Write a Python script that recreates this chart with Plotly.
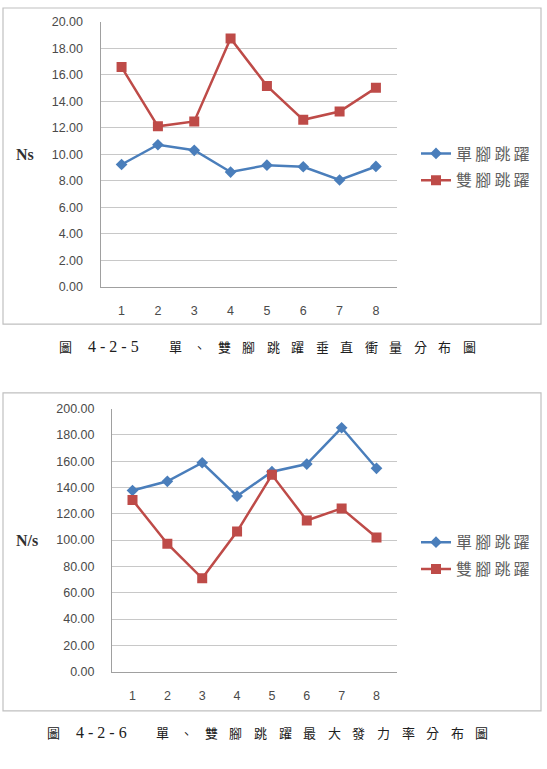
import plotly.graph_objects as go

# ---------------- data ----------------
categories = ["1", "2", "3", "4", "5", "6", "7", "8"]
series_names = ["單腳跳躍", "雙腳跳躍"]
impulse_single = [9.23, 10.72, 10.30, 8.66, 9.18, 9.06, 8.06, 9.08]
impulse_double = [16.58, 12.11, 12.48, 18.73, 15.16, 12.60, 13.23, 15.01]
rfd_single = [137.7, 144.7, 158.8, 133.5, 152.0, 157.8, 185.4, 154.6]
rfd_double = [130.5, 97.3, 71.0, 106.5, 149.6, 114.9, 124.1, 102.0]
impulse_ticks = [0, 2, 4, 6, 8, 10, 12, 14, 16, 18, 20]
rfd_ticks = [0, 20, 40, 60, 80, 100, 120, 140, 160, 180, 200]
caption1_head = ["圖", "4-2-5"]
caption1_chars = list("單、雙腳跳躍垂直衝量分布圖")
caption2_head = ["圖", "4-2-6"]
caption2_chars = list("單、雙腳跳躍最大發力率分布圖")
ytitle1 = "Ns"
ytitle2 = "N/s"

W, H = 547, 769
BLUE = "#4a7ebb"
RED = "#be4b48"
GRID = "#c8c8c8"
TXT = "#4a4a4a"
CJK = "Noto Sans CJK TC"


def px(x):
    return x / W


def py(y):
    return 1 - y / H


def legend_label(s):
    return "\u2009".join(s)


fig = go.Figure()

# chart 1
fig.add_trace(go.Scatter(x=categories, y=impulse_single, name=legend_label(series_names[0]), mode="lines+markers",
                         line=dict(color=BLUE, width=2.5), marker=dict(symbol="diamond", size=9, color=BLUE),
                         xaxis="x", yaxis="y", legend="legend", legendgroup="a"))
fig.add_trace(go.Scatter(x=categories, y=impulse_double, name=legend_label(series_names[1]), mode="lines+markers",
                         line=dict(color=RED, width=2.5), marker=dict(symbol="square", size=10, color=RED),
                         xaxis="x", yaxis="y", legend="legend", legendgroup="b"))
# chart 2
fig.add_trace(go.Scatter(x=categories, y=rfd_single, name=legend_label(series_names[0]), mode="lines+markers",
                         line=dict(color=BLUE, width=2.5), marker=dict(symbol="diamond", size=9, color=BLUE),
                         xaxis="x2", yaxis="y2", legend="legend2", legendgroup="c"))
fig.add_trace(go.Scatter(x=categories, y=rfd_double, name=legend_label(series_names[1]), mode="lines+markers",
                         line=dict(color=RED, width=2.5), marker=dict(symbol="square", size=10, color=RED),
                         xaxis="x2", yaxis="y2", legend="legend2", legendgroup="d"))

tickfont = dict(family="Liberation Sans", size=12.5, color=TXT)
common_x = dict(type="category", showgrid=False, showline=True, linecolor="#a0a0a0", linewidth=1,
                ticks="", tickfont=tickfont, ticklabelstandoff=12, zeroline=False, fixedrange=True)
common_y = dict(showgrid=True, gridcolor=GRID, gridwidth=1, showline=True, linecolor="#a0a0a0",
                linewidth=1, ticks="", tickfont=tickfont, ticklabelstandoff=14, zeroline=False,
                tickformat=".2f")

legend_common = dict(xanchor="left", yanchor="middle",
                     font=dict(family=CJK, size=16, color="#606060"), bgcolor="rgba(0,0,0,0)",
                     itemwidth=30, traceorder="grouped", tracegroupgap=3)

layout = dict(
    width=W, height=H, margin=dict(l=0, r=0, t=0, b=0),
    paper_bgcolor="white", plot_bgcolor="white", showlegend=True,
    xaxis=dict(common_x, domain=[px(100.5), px(397)], anchor="y"),
    yaxis=dict(common_y, domain=[py(285), py(15)], range=[0, 20], tickvals=impulse_ticks, anchor="x"),
    xaxis2=dict(common_x, domain=[px(112), px(397)], anchor="y2"),
    yaxis2=dict(common_y, domain=[py(677), py(409)], range=[0, 200], tickvals=rfd_ticks, anchor="x2"),
    legend=dict(legend_common, x=px(416), y=py(163)),
    legend2=dict(legend_common, x=px(416), y=py(559)),
)
fig.update_layout(**layout)

# frames
frame_col = "#c0c0c0"
fig.add_shape(type="rect", xref="paper", yref="paper", x0=px(3), x1=px(541), y0=py(323), y1=py(1),
              line=dict(color=frame_col, width=1.2), fillcolor="rgba(0,0,0,0)", layer="below")
fig.add_shape(type="rect", xref="paper", yref="paper", x0=px(3), x1=px(541), y0=py(717), y1=py(393),
              line=dict(color=frame_col, width=1.2), fillcolor="rgba(0,0,0,0)", layer="below")


def note(text, x, y, family, size, color="#202020"):
    fig.add_annotation(text=text, x=px(x), y=py(y), xref="paper", yref="paper",
                       xanchor="center", yanchor="middle", showarrow=False,
                       font=dict(family=family, size=size, color=color))


# axis titles
note("<b>%s</b>" % ytitle1, 25, 150, "Liberation Serif", 16, "#303030")
note("<b>%s</b>" % ytitle2, 27, 543, "Liberation Serif", 16, "#303030")


def add_caption(head, chars, y, head_x, start_x, pitch):
    note(head[0], head_x[0], y, CJK, 13)
    note(" ".join(head[1]), head_x[1], y, "Liberation Serif", 16)
    for i, ch in enumerate(chars):
        note(ch, start_x + i * pitch, y, CJK, 13)


add_caption(caption1_head, caption1_chars, 346, [65, 113], 175, 24.5)
add_caption(caption2_head, caption2_chars, 739, [53, 101], 162, 24.6)

fig.write_html("out.html")
